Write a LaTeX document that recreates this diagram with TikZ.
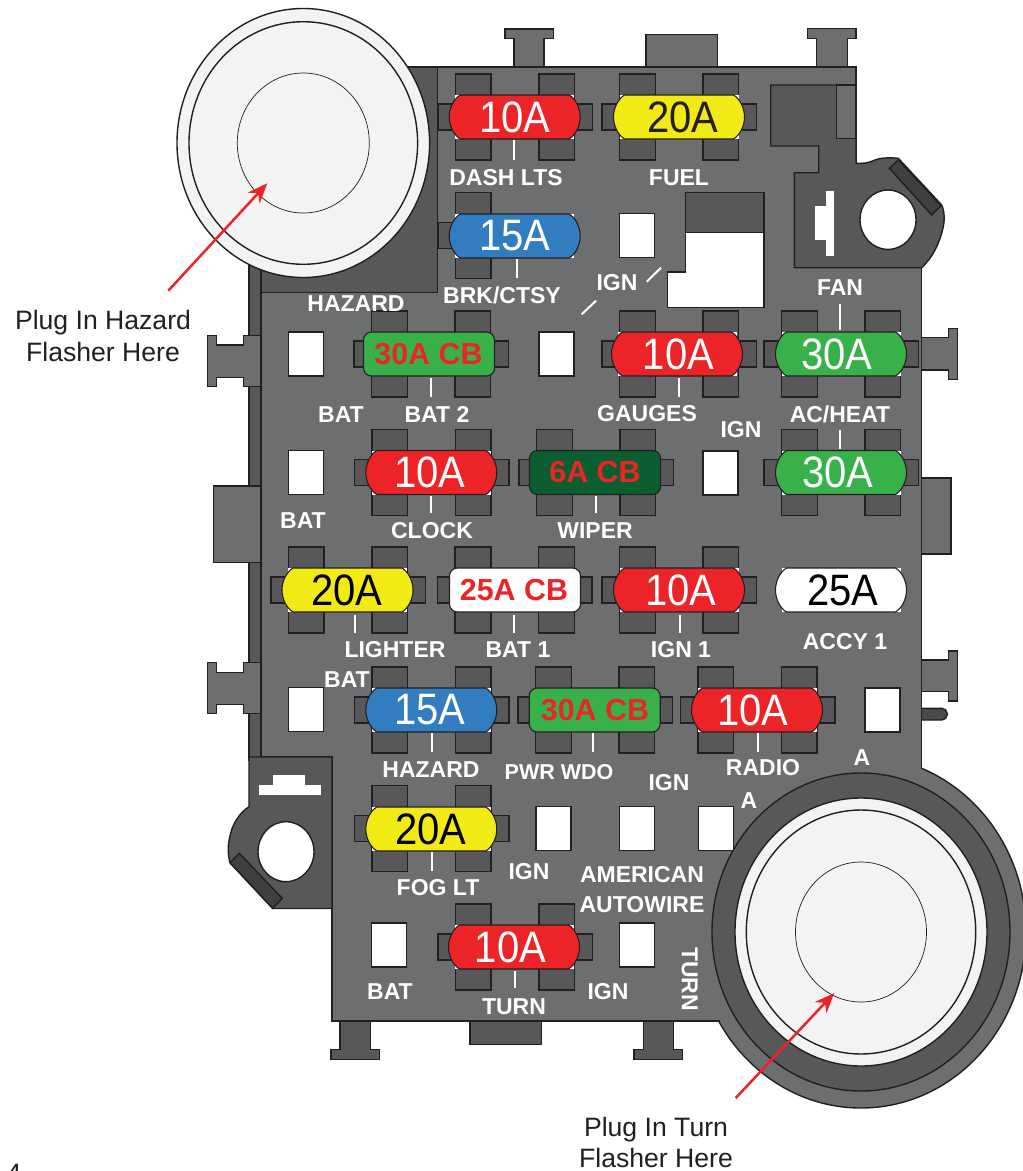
\documentclass[tikz,border=0pt]{standalone}
\usepackage{fontspec}
\setmainfont{Liberation Sans}
\usetikzlibrary{arrows.meta}
\definecolor{bodyc}{HTML}{6D6E70}
\definecolor{darkc}{HTML}{58585A}
\definecolor{barc}{HTML}{404041}
\definecolor{linec}{HTML}{231F20}
\definecolor{redc}{HTML}{EC2427}
\definecolor{yelc}{HTML}{F1EA14}
\definecolor{bluc}{HTML}{317DBF}
\definecolor{grnc}{HTML}{39B14A}
\definecolor{dgrc}{HTML}{0B5E2F}
\definecolor{flac}{HTML}{F3F3F3}
\tikzset{
  part/.style={draw=linec,line width=1.4pt,line join=miter},
  graypart/.style={part,fill=bodyc},
  darkpart/.style={part,fill=darkc},
  holepart/.style={part,fill=white},
  bladepart/.style={part,fill=darkc},
  lab/.style={text=white,inner sep=0pt,text depth=0pt,text height=16.5pt,font=\fontsize{23}{23}\selectfont\bfseries},
  labs/.style={lab,font=\fontsize{21.5}{23}\selectfont\bfseries},
  note/.style={text=linec,inner sep=0pt,text depth=0pt,text height=19pt,font=\fontsize{26.6}{26.6}\selectfont},
  ampt/.style={inner sep=0pt,font=\fontsize{40}{40}\selectfont},
  cbt/.style={inner sep=0pt,text=redc,font=\fontsize{30.4}{30.4}\selectfont\bfseries},
  tick/.style={draw=white,line width=2pt},
  pointer/.style={draw=redc,line width=2.5pt,-{Stealth[length=20pt,width=16pt]}},
}
% blade helpers: centre x, centre y
\newcommand\bladeL[2]{\draw[bladepart] (#1-59.5,#2-43) rectangle (#1-23.7,#2+43);}
\newcommand\bladeR[2]{\draw[bladepart] (#1+24,#2-43) rectangle (#1+59.7,#2+43);}
\newcommand\sideL[2]{\draw[bladepart] (#1-77,#2-13) rectangle (#1,#2+13);}
\newcommand\sideR[2]{\draw[bladepart] (#1,#2-13) rectangle (#1+77.5,#2+13);}
\newcommand\fullbase[2]{\sideL{#1}{#2}\sideR{#1}{#2}\bladeL{#1}{#2}\bladeR{#1}{#2}}
% lens fuse: name, body cx, cy, fill, text colour, text x, text
\newcommand\lens[7]{%
  \fill[white] (#2-59.5,#3-22) rectangle (#2+59.5,#3+22);
  \draw[draw=linec,line width=1.1pt,fill=#4]
    (#2-54.5,#3-22) -- (#2+54.5,#3-22)
    .. controls (#2+61,#3-18) and (#2+65.5,#3-9) .. (#2+65.5,#3)
    .. controls (#2+65.5,#3+9) and (#2+61,#3+18) .. (#2+54.5,#3+22)
    -- (#2-54.5,#3+22)
    .. controls (#2-61,#3+18) and (#2-65.5,#3+9) .. (#2-65.5,#3)
    .. controls (#2-65.5,#3-9) and (#2-61,#3-18) .. (#2-54.5,#3-22) -- cycle;
  \node[ampt,text=#5] (#1) at (#6,#3) {\scalebox{1}[1.1]{#7}};}
% circuit breaker fuse: name, body cx, cy, fill, text x, text
\newcommand\cbf[6]{%
  \draw[draw=linec,line width=1.1pt,fill=#4,rounded corners=8pt]
    (#2-65.5,#3-22) rectangle (#2+65.5,#3+22);
  \node[cbt] (#1) at (#5,#3) {#6};}
\newcommand\hole[2]{\draw[holepart] (#1-17.5,#2-22) rectangle (#1+17.5,#2+22);}
\begin{document}
\begin{tikzpicture}[x=1pt,y=-1pt]
\useasboundingbox (0,0) rectangle (1023,1171);
\clip (0,0) rectangle (1023,1171);
% left strip
\draw[darkpart] (249,262) rectangle (261,760);
% tabs
\draw[graypart] (505,29) -- (553.3,29) -- (553.3,38.3) -- (544,38.3) -- (544,68) -- (514,68) -- (514,38.3) -- (505,38.3) -- cycle;
\draw[graypart] (646,34.7) rectangle (717.3,68);
\draw[graypart] (807.7,28.3) -- (856,28.3) -- (856,38.3) -- (847.7,38.3) -- (847.7,68) -- (816.7,68) -- (816.7,38.3) -- (807.7,38.3) -- cycle;
\draw[graypart] (262,335.7) -- (243.3,335.7) -- (243.3,345) -- (216.7,345) -- (216.7,335.7) -- (207.7,335.7) -- (207.7,386.7) -- (216.7,386.7) -- (216.7,377.7) -- (243.3,377.7) -- (243.3,386.7) -- (262,386.7);
\draw[graypart] (262,486) -- (213.3,486) -- (213.3,562.3) -- (262,562.3);
\draw[graypart] (262,662.7) -- (243.3,662.7) -- (243.3,672.3) -- (216.7,672.3) -- (216.7,662.7) -- (207.3,662.7) -- (207.3,713.3) -- (216.7,713.3) -- (216.7,704.3) -- (243.3,704.3) -- (243.3,713.3) -- (262,713.3);
\draw[graypart] (921,337.3) -- (948.3,337.3) -- (948.3,328.3) -- (957.3,328.3) -- (957.3,379.3) -- (948.3,379.3) -- (948.3,370) -- (921,370);
\draw[graypart] (921,478) rectangle (951,554);
\draw[graypart] (921,660) -- (948.3,660) -- (948.3,651) -- (957.3,651) -- (957.3,701) -- (948.3,701) -- (948.3,691.7) -- (921,691.7);
\draw[part,fill=barc!60!darkc,rounded corners=5.5pt] (915,708.3) -- (947.3,708.3) -- (947.3,720) -- (915,720);
\draw[darkpart] (340,1020) -- (340,1049.3) -- (331,1049.3) -- (331,1059.3) -- (379.3,1059.3) -- (379.3,1049.3) -- (370.7,1049.3) -- (370.7,1020);
\draw[darkpart] (470,1020) rectangle (541.7,1044.3);
\draw[darkpart] (643.3,1020) -- (643.3,1049.3) -- (634,1049.3) -- (634,1059.3) -- (682.3,1059.3) -- (682.3,1049.3) -- (673.3,1049.3) -- (673.3,1020);
% big flasher housing
\draw[graypart] (861,932) ellipse [x radius=165pt,y radius=176pt];
% body
\fill[bodyc] (261,67) -- (856,67) -- (856,267.7) -- (921.7,267.7) -- (921.7,769) -- (861,932) -- (720,1021) -- (332,1021) -- (332,757) -- (261,757) -- cycle;
\draw[part] (261,757) -- (261,67) -- (856,67) -- (856,267.7) -- (921.7,267.7) -- (921.7,769);
\draw[part] (720,1021) -- (332,1021) -- (332,757) -- (261,757);
% upper right bracket
\draw[darkpart] (770.7,85) -- (856,85) -- (856,163.3) .. controls (864,163.5) and (868,163) .. (873.3,160.7)
  .. controls (880,157.5) and (890,157.5) .. (898.3,158.3) -- (941.7,205)
  .. controls (945,212) and (944.5,222) .. (943,228) .. controls (939,245) and (932,258) .. (921.7,267.7)
  -- (794.3,267.7) -- (794.3,172.7) -- (818.7,172.7) -- (818.7,146) -- (770.7,146) -- cycle;
\draw[graypart] (836.7,85) rectangle (856,138.3);
\draw[part,fill=barc] (889.3,168.3) -- (898.3,160) -- (941,205.7) -- (931.7,215) -- cycle;
\draw[holepart] (888,219.7) ellipse [x radius=28pt,y radius=29.7pt];
\draw[part,fill=white,draw=darkc,line width=0.7pt] (825,190) -- (834.3,190) -- (834.3,256.7) -- (825,256.7) -- (825,240) -- (814.3,240) -- (814.3,205.7) -- (825,205.7) -- cycle;
% big window
\draw[darkpart] (685.7,192.7) rectangle (764,232.3);
\draw[holepart] (685.7,232.3) -- (764,232.3) -- (764,307.3) -- (667.7,307.3) -- (667.7,272) -- (685.7,272) -- cycle;
% lower left bracket
\draw[darkpart] (249,757) -- (332,757) -- (332,908.5) -- (272.7,908.5) -- (230,862.7)
  .. controls (227,852) and (228,843) .. (231,832) .. controls (234,821) and (241,812) .. (249,806.7) -- cycle;
\draw[part,fill=barc] (239.3,853.3) -- (282.3,898.3) -- (272.7,908.3) -- (230,862.7) -- cycle;
\draw[holepart] (286,851.7) ellipse [x radius=28pt,y radius=30pt];
\draw[part,fill=white,draw=darkc,line width=0.7pt] (258.3,784.3) -- (272.7,784.3) -- (272.7,774) -- (305.3,774) -- (305.3,784.3) -- (321,784.3) -- (321,795) -- (258.3,795) -- cycle;
% hazard block
\draw[darkpart] (261,67) -- (437.7,67) -- (437.7,292.7) -- (261,292.7) -- cycle;
% fuse bases
\fullbase{514.8}{117}
\fullbase{679}{117}
\sideL{514.8}{235.5}\bladeL{514.8}{235.5}
\fullbase{431}{354}
\fullbase{679}{354}
\fullbase{841}{354}
\fullbase{431.4}{472.5}
\fullbase{596}{472.5}
\fullbase{841}{472.5}
\fullbase{347.8}{590}
\fullbase{514.5}{590}
\fullbase{679}{590}
\fullbase{431.4}{710}
\fullbase{595}{710}
\fullbase{757.3}{710}
\fullbase{431.4}{828.5}
\fullbase{514.8}{947}
% fuses
\lens{fdash}{514.7}{117}{redc}{white}{515}{10A}
\lens{ffuel}{679}{117}{yelc}{linec}{683}{20A}
\lens{fbrk}{514.7}{236}{bluc}{white}{515}{15A}
\cbf{fbat2}{429}{354}{grnc}{428.5}{30A CB}
\lens{fgauge}{677}{354}{redc}{white}{678.5}{10A}
\lens{ffan}{841}{354}{grnc}{white}{837}{30A}
\lens{fclock}{431.3}{472.5}{redc}{white}{430}{10A}
\cbf{fwiper}{595}{472.5}{dgrc}{595}{6A CB}
\lens{fac}{841}{472.5}{grnc}{white}{838}{30A}
\lens{flight}{347.5}{590}{yelc}{black}{347}{20A}
\cbf{fbat1}{515}{590}{white}{514}{25A CB}
\lens{fign1}{679}{590}{redc}{white}{681}{10A}
\lens{faccy}{841}{590}{white}{black}{843}{25A}
\lens{fhaz}{431.3}{710}{bluc}{white}{429.7}{15A}
\cbf{fpwr}{594.7}{710}{grnc}{595}{30A CB}
\lens{fradio}{757}{710}{redc}{white}{753}{10A}
\lens{ffog}{431.3}{829}{yelc}{black}{431}{20A}
\lens{fturn}{514}{947}{redc}{white}{510.5}{10A}
% holes
\hole{306}{354}\hole{556.5}{354}\hole{636.7}{235.7}\hole{306}{472.5}\hole{720.5}{473}
\hole{306}{709.7}\hole{882.5}{710}\hole{553.5}{828.5}\hole{636.7}{828.5}\hole{715.8}{828.5}
\hole{389}{945}\hole{636.7}{945}
% ticks
\draw[tick] (514.3,140) -- (514.3,160);
\draw[tick] (516.7,259.3) -- (516.7,278.3);
\draw[tick] (431,377.7) -- (431,396.7);
\draw[tick] (646.7,281.7) -- (661,267.7);
\draw[tick] (581.7,314.3) -- (596,300.7);
\draw[tick] (840.3,304) -- (840.3,330);
\draw[tick] (679,377.7) -- (679,396.7);
\draw[tick] (840.3,430) -- (840.3,449);
\draw[tick] (431,496) -- (431,513.3);
\draw[tick] (596,496) -- (596,513.3);
\draw[tick] (355,615) -- (355,633);
\draw[tick] (514,615) -- (514,633);
\draw[tick] (680,615) -- (680,633);
\draw[tick] (431.7,733.3) -- (431.7,752.3);
\draw[tick] (593.3,733.3) -- (593.3,752.3);
\draw[tick] (758,733) -- (758,752);
\draw[tick] (431.7,852.3) -- (431.7,871);
\draw[tick] (515,970.7) -- (515,988.3);
% labels
\node[lab] (l1) at (506,177) {DASH LTS};
\node[lab] (l2) at (679,177) {FUEL};
\node[lab] (l3) at (502,295) {BRK/CTSY};
\node[lab] (l4) at (356,303) {HAZARD};
\node[lab] (l5) at (617,282) {IGN};
\node[lab] (l6) at (840,287) {FAN};
\node[lab] (l7) at (341,414) {BAT};
\node[lab] (l8) at (437,414) {BAT 2};
\node[lab] (l9) at (647,413) {GAUGES};
\node[lab] (l10) at (741,429) {IGN};
\node[lab] (l11) at (840,414) {AC/HEAT};
\node[lab] (l12) at (303,520) {BAT};
\node[lab] (l13) at (432,530) {CLOCK};
\node[lab] (l14) at (595,530) {WIPER};
\node[lab] (l15) at (395,649) {LIGHTER};
\node[lab] (l16) at (518,649) {BAT 1};
\node[lab] (l17) at (681,649) {IGN 1};
\node[lab] (l18) at (845,641) {ACCY 1};
\node[lab] (l19) at (347,679) {BAT};
\node[lab] (l20) at (431,769) {HAZARD};
\node[labs] (l21) at (559,771) {PWR WDO};
\node[lab] (l22) at (669,782) {IGN};
\node[lab] (l23) at (763,767) {RADIO};
\node[lab] (l25) at (529,871) {IGN};
\node[lab] (l26) at (642,874) {AMERICAN};
\node[lab] (l27) at (642,904) {AUTOWIRE};
\node[lab] (l28) at (438,887) {FOG LT};
\node[lab] (l29) at (390,991) {BAT};
\node[lab] (l30) at (608,991) {IGN};
\node[lab] (l31) at (514,1006) {TURN};
\node[lab,rotate=-90] (l32) at (690,979) {TURN};
\node[lab] (l33) at (862,757) {A};
\node[lab] (l34) at (749,800) {A};
% big flasher
\draw[darkpart] (861,932) ellipse [x radius=149pt,y radius=159pt];
\draw[part,fill=flac] (861,932) ellipse [x radius=126pt,y radius=134pt];
\draw[part,fill=flac] (861,932) ellipse [x radius=114.7pt,y radius=122pt];
\draw[draw=linec,line width=0.7pt] (861,932) ellipse [x radius=65.5pt,y radius=70pt];
% hazard flasher
\draw[part,fill=flac] (303.3,143) ellipse [x radius=126.3pt,y radius=134.5pt];
\draw[part,fill=flac] (303.3,143) ellipse [x radius=114.3pt,y radius=121.3pt];
\draw[draw=linec,line width=0.7pt] (303.3,143) ellipse [x radius=66pt,y radius=70pt];
% notes
\node[note] (n1) at (103,320) {Plug In Hazard};
\node[note] (n2) at (103,352) {Flasher Here};
\node[note] (n3) at (656,1127) {Plug In Turn};
\node[note] (n4) at (656,1158) {Flasher Here};
\node[note] (n5) at (14,1172.5) {4};
% pointers
\coordinate (ha) at (168.3,290.7);
\coordinate (hb) at (267.3,183.3);
\coordinate (ta) at (735.7,1098);
\coordinate (tb) at (834.3,993);
\draw[pointer] (ha) -- (hb);
\draw[pointer] (ta) -- (tb);
\end{tikzpicture}
\end{document}
